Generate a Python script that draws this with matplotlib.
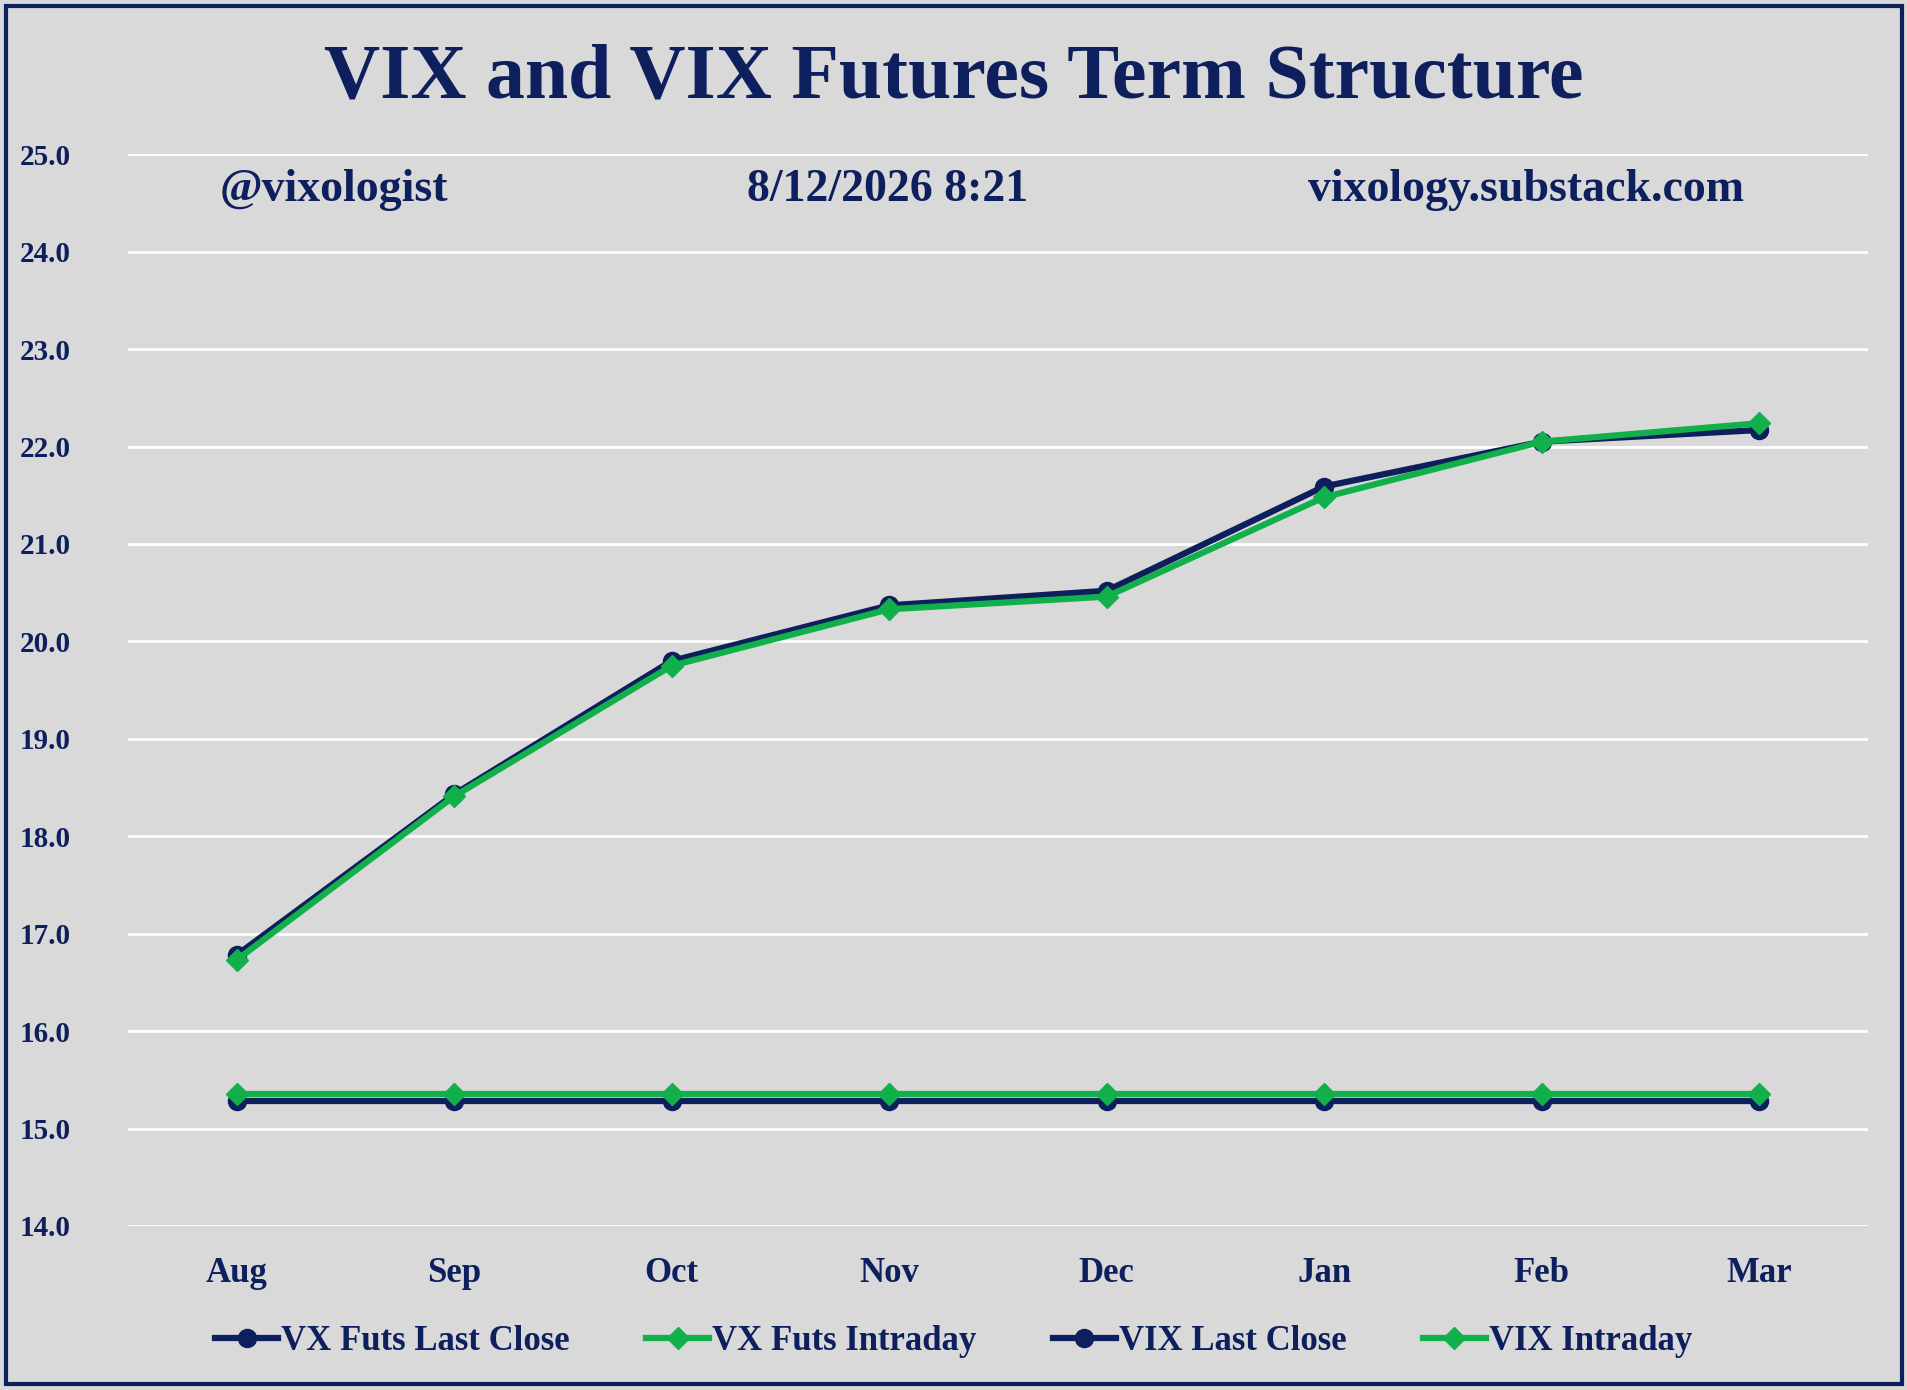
import matplotlib
matplotlib.use("Agg")
import matplotlib.pyplot as plt
from matplotlib.patches import Rectangle

months = ["Aug", "Sep", "Oct", "Nov", "Dec", "Jan", "Feb", "Mar"]
vx_close = [16.78, 18.43, 19.80, 20.37, 20.52, 21.59, 22.05, 22.17]
vx_intraday = [16.73, 18.41, 19.75, 20.33, 20.46, 21.48, 22.05, 22.24]
vix_close = [15.28] * 8
vix_intraday = [15.35] * 8
yticks = [14 + i for i in range(12)]

navy = "#0d1f5c"
green = "#12b04a"
bg = "#d9d9d9"
plt.rcParams['font.family'] = ['Liberation Serif', 'DejaVu Serif']
plt.rcParams['font.weight'] = 'bold'

fig = plt.figure(figsize=(19.08, 13.9), dpi=100, facecolor=bg)
fig.patches.append(Rectangle((0.003, 0.004), 0.994, 0.992, transform=fig.transFigure,
                             fill=False, edgecolor=navy, linewidth=3))
ax = fig.add_axes([0.067, 0.118, 0.912, 0.771], facecolor=bg)
x = list(range(len(months)))
ax.plot(x, vx_close, color=navy, lw=4.5, marker='o', ms=13, label="VX Futs Last Close", zorder=3)
ax.plot(x, vx_intraday, color=green, lw=4.5, marker='D', ms=11, label="VX Futs Intraday", zorder=4)
ax.plot(x, vix_close, color=navy, lw=4.5, marker='o', ms=13, label="VIX Last Close", zorder=3)
ax.plot(x, vix_intraday, color=green, lw=4.5, marker='D', ms=11, label="VIX Intraday", zorder=4)
ax.set_xlim(-0.5, 7.5)
ax.set_ylim(14, 25)
ax.set_yticks(yticks)
ax.set_yticklabels([f"{v:.1f}" for v in yticks], color=navy, fontsize=21, fontweight='bold')
ax.set_xticks(x)
ax.set_xticklabels(months, color=navy, fontsize=25, fontweight='bold')
ax.tick_params(length=0, axis='x', pad=22)
for lbl in ax.get_yticklabels():
    lbl.set_horizontalalignment('left')
ax.yaxis.set_tick_params(length=0, pad=78)
ax.grid(axis='y', color='white', lw=2)
ax.set_axisbelow(True)
for s in ax.spines.values():
    s.set_visible(False)

fig.text(0.5, 0.943, "VIX and VIX Futures Term Structure", ha='center', va='center',
         color=navy, fontsize=56, fontweight='bold')
fig.text(0.175, 0.863, "@vixologist", ha='center', va='center', color=navy, fontsize=33, fontweight='bold')
fig.text(0.465, 0.863, "8/12/2026 8:21", ha='center', va='center', color=navy, fontsize=33, fontweight='bold')
fig.text(0.80, 0.863, "vixology.substack.com", ha='center', va='center', color=navy, fontsize=33, fontweight='bold')

leg = fig.legend(loc='center', bbox_to_anchor=(0.5, 0.035), ncol=4, frameon=False,
                 fontsize=25, handlelength=1.8, handletextpad=0.1, columnspacing=2.2)
for t in leg.get_texts():
    t.set_color(navy)
fig.savefig("out.png", facecolor=bg)
